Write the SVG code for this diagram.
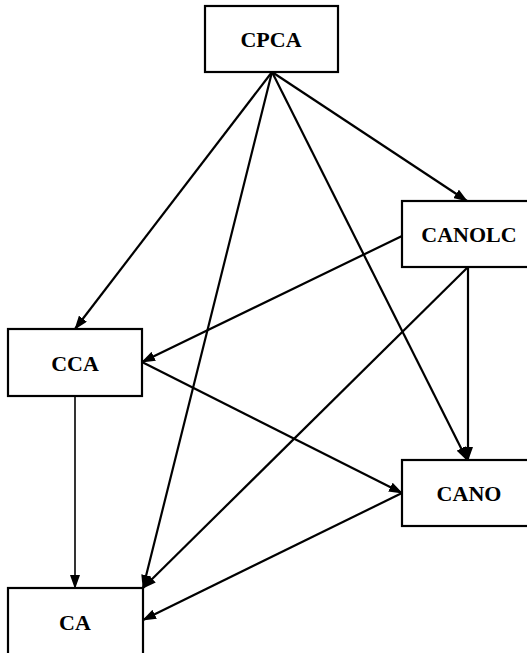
<svg xmlns="http://www.w3.org/2000/svg" width="527" height="653" viewBox="0 0 527 653">
<style>
  .box { fill: #ffffff; stroke: #000000; stroke-width: 2.2; }
  .lbl { font-family: "Liberation Serif", "DejaVu Serif", serif; font-weight: bold; font-size: 22px; fill: #000000; text-anchor: middle; }
  .edge { fill: none; stroke: #000000; stroke-width: 2.2; marker-end: url(#arrow); }
</style>
<defs>
  <marker id="arrow" markerUnits="userSpaceOnUse" markerWidth="14" markerHeight="10" refX="13" refY="5" orient="auto">
    <path d="M0,0 L14,5 L0,10 Z" fill="#000000"/>
  </marker>
</defs>
<rect width="527" height="653" fill="#ffffff"/>
<g id="connectors">
  <line class="edge" x1="272" y1="72" x2="75" y2="329"/>
  <line class="edge" x1="272" y1="72" x2="143" y2="588"/>
  <line class="edge" x1="272" y1="72" x2="467" y2="460"/>
  <line class="edge" x1="272" y1="72" x2="467" y2="201"/>
  <line class="edge" x1="402" y1="236" x2="142" y2="362"/>
  <line class="edge" x1="468" y1="267" x2="143" y2="588"/>
  <line class="edge" x1="468" y1="267" x2="468" y2="460"/>
  <line class="edge" x1="142" y1="362" x2="402" y2="493"/>
  <line class="edge" x1="75" y1="396" x2="75" y2="588" style="stroke-width:1.6"/>
  <line class="edge" x1="402" y1="493" x2="143" y2="620"/>
</g>
<g id="CPCA">
  <rect class="box" x="205" y="6" width="133" height="66"/>
  <text class="lbl" x="271" y="47">CPCA</text>
</g>
<g id="CANOLC">
  <rect class="box" x="402" y="201" width="140" height="66"/>
  <text class="lbl" x="469" y="242">CANOLC</text>
</g>
<g id="CCA">
  <rect class="box" x="8" y="329" width="134" height="67"/>
  <text class="lbl" x="75" y="371">CCA</text>
</g>
<g id="CANO">
  <rect class="box" x="402" y="460" width="140" height="66"/>
  <text class="lbl" x="469" y="501">CANO</text>
</g>
<g id="CA">
  <rect class="box" x="8" y="588" width="135" height="80"/>
  <text class="lbl" x="75" y="630">CA</text>
</g>
</svg>
